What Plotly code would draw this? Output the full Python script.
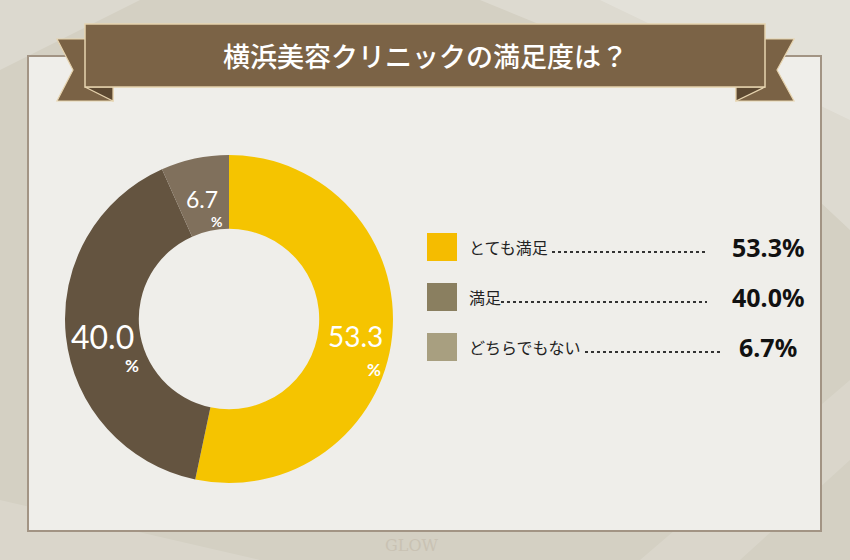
import math
import plotly.graph_objects as go

# ---- data ----
categories = ["とても満足", "満足", "どちらでもない"]
values = [53.3, 40.0, 6.7]
slice_colors = ["#F5C400", "#645440", "#80705C"]
legend_colors = ["#F5BC00", "#8A7F60", "#A89F80"]
title_text = "横浜美容クリニックの満足度は？"

W, H = 850, 560


def fx(px):
    return px / W


def fy(py):
    return 1 - py / H


def path(points):
    return "M " + " L ".join(f"{fx(x):.5f} {fy(y):.5f}" for x, y in points) + " Z"


fig = go.Figure()

# donut geometry (pixels)
cx, cy, R_out, hole = 229, 319, 164, 0.55
fig.add_trace(go.Pie(
    values=values, labels=categories, sort=False, direction="clockwise", rotation=0,
    hole=hole, marker=dict(colors=slice_colors, line=dict(width=0)),
    textinfo="none", hoverinfo="label+percent", showlegend=False,
    domain=dict(x=[fx(cx - R_out), fx(cx + R_out)], y=[fy(cy + R_out), fy(cy - R_out)]),
))

shapes = []


def poly(points, fill, line=None, layer="below"):
    shapes.append(dict(type="path", xref="paper", yref="paper", path=path(points),
                       fillcolor=fill, line=line or dict(width=0), layer=layer))


def rect(x0, y0, x1, y1, fill, line=None, layer="below"):
    shapes.append(dict(type="rect", xref="paper", yref="paper", x0=fx(x0), x1=fx(x1),
                       y0=fy(y1), y1=fy(y0), fillcolor=fill,
                       line=line or dict(width=0), layer=layer))


# background silk streaks
poly([(480, 0), (850, 0), (850, 230), (700, 90)], "rgba(255,255,255,0.22)")
poly([(600, 0), (850, 0), (850, 120)], "rgba(255,255,255,0.2)")
poly([(0, 0), (140, 0), (0, 70)], "rgba(255,255,255,0.2)")
poly([(0, 500), (260, 560), (0, 560)], "rgba(255,255,255,0.14)")
poly([(640, 560), (850, 380), (850, 460), (740, 560)], "rgba(255,255,255,0.14)")
# panel
rect(28, 56, 821, 531, "#EFEEEA", dict(color="#A29484", width=2))
# ribbon tails
edge = dict(color="#E6D3AE", width=1.2)
poly([(57, 39), (113, 39), (113, 101), (57, 101), (73, 70)], "#7A6245", edge)
poly([(794, 39), (736, 39), (736, 101), (794, 101), (777, 70)], "#7A6245", edge)
poly([(85, 87), (113, 101), (113, 87)], "#5C4831", edge)
poly([(765, 87), (736, 101), (736, 87)], "#5C4831", edge)
# banner main
rect(85, 24, 765, 87, "#7B6346", dict(color="#E6D3AE", width=1.5))

annotations = [dict(xref="paper", yref="paper", x=fx(425), y=fy(56), text=title_text,
                    showarrow=False,
                    font=dict(family="Noto Sans CJK JP", size=27, color="#FFFFFF", weight=500),
                    xanchor="center", yanchor="middle")]

# donut labels computed from the values
r_mid = R_out * (1 + hole) / 2
num_sizes = [28, 32, 23]
pct_sizes = [17, 17, 14]
pct_off = [(19, 33), (29, 29), (14, 23)]
total = sum(values)
cum = 0.0
for i, v in enumerate(values):
    mid = (cum + v / 2) / total
    cum += v
    th = 2 * math.pi * mid
    px = cx + r_mid * math.sin(th)
    py = cy - r_mid * math.cos(th) + 4
    annotations.append(dict(xref="paper", yref="paper", x=fx(px), y=fy(py), text=f"{v:.1f}",
                            showarrow=False,
                            font=dict(family="Lato", size=num_sizes[i], color="#FFFFFF"),
                            xanchor="center", yanchor="middle"))
    annotations.append(dict(xref="paper", yref="paper", x=fx(px + pct_off[i][0]),
                            y=fy(py + pct_off[i][1]), text="%", showarrow=False,
                            font=dict(family="Lato", size=pct_sizes[i], color="#FFFFFF", weight=700),
                            xanchor="center", yanchor="middle"))

# legend
lx, ly0, dy = 427, 247, 50
dot_ends = [707, 707, 722]
label_ends = [549, 498, 582]
for i, (c, v) in enumerate(zip(categories, values)):
    y = ly0 + dy * i
    rect(lx, y - 14, lx + 30, y + 14, legend_colors[i], layer="above")
    annotations.append(dict(xref="paper", yref="paper", x=fx(467), y=fy(y), text=c,
                            showarrow=False,
                            font=dict(family="Noto Sans CJK JP", size=16, color="#222222"),
                            xanchor="left", yanchor="middle"))
    shapes.append(dict(type="line", xref="paper", yref="paper",
                       x0=fx(label_ends[i] + 3), x1=fx(dot_ends[i]), y0=fy(y + 5), y1=fy(y + 5),
                       line=dict(color="#333333", width=1.8, dash="dot")))
    annotations.append(dict(xref="paper", yref="paper", x=fx(768), y=fy(y), text=f"{v:.1f}%",
                            showarrow=False,
                            font=dict(family="Noto Sans", size=25, color="#111111", weight=700),
                            xanchor="center", yanchor="middle"))

annotations.append(dict(xref="paper", yref="paper", x=fx(412), y=fy(545), text="GLOW",
                        showarrow=False,
                        font=dict(family="DejaVu Serif", size=16, color="#C9C2B3"),
                        xanchor="center", yanchor="middle"))

fig.update_layout(
    width=W, height=H, margin=dict(l=0, r=0, t=0, b=0),
    paper_bgcolor="#D4D0C3", plot_bgcolor="rgba(0,0,0,0)",
    shapes=shapes, annotations=annotations, showlegend=False,
)
fig.write_html("out.html", config={"displayModeBar": False},
               post_script="document.body.style.margin='0';")
